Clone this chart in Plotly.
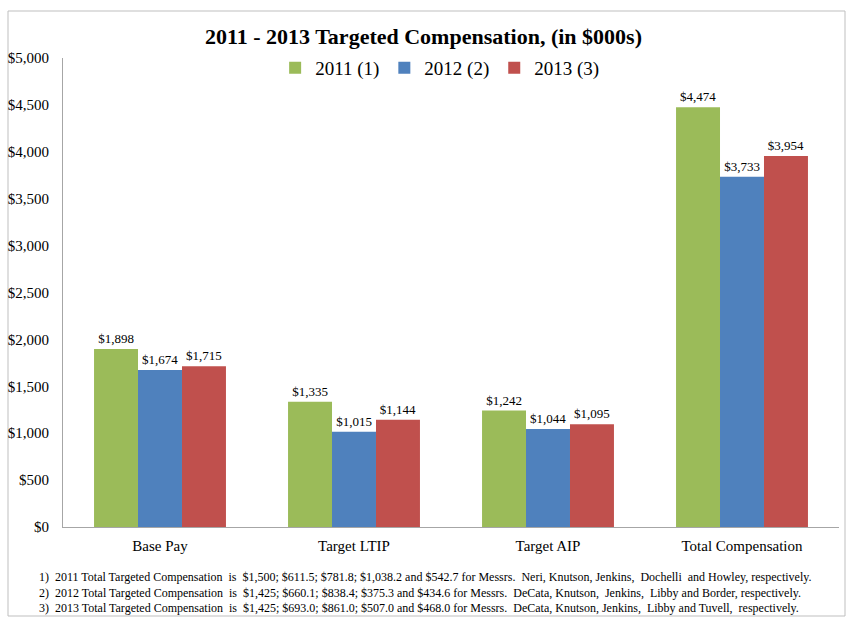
import plotly.graph_objects as go

categories = ["Base Pay", "Target LTIP", "Target AIP", "Total Compensation"]
series_names = ["2011 (1)", "2012 (2)", "2013 (3)"]
values_2011 = [1898, 1335, 1242, 4474]
values_2012 = [1674, 1015, 1044, 3733]
values_2013 = [1715, 1144, 1095, 3954]
colors = ["#9BBB59", "#4F81BD", "#C0504D"]
tick_vals = [0, 500, 1000, 1500, 2000, 2500, 3000, 3500, 4000, 4500, 5000]
tick_text = ["$0", "$500", "$1,000", "$1,500", "$2,000", "$2,500", "$3,000",
             "$3,500", "$4,000", "$4,500", "$5,000"]
footnotes = [
    "1)  2011 Total Targeted Compensation  is  $1,500; $611.5; $781.8; $1,038.2 and $542.7 for Messrs.  Neri, Knutson, Jenkins,  Dochelli  and Howley, respectively.",
    "2)  2012 Total Targeted Compensation  is  $1,425; $660.1; $838.4; $375.3 and $434.6 for Messrs.  DeCata, Knutson,  Jenkins,  Libby and Border, respectively.",
    "3)  2013 Total Targeted Compensation  is  $1,425; $693.0; $861.0; $507.0 and $468.0 for Messrs.  DeCata, Knutson, Jenkins,  Libby and Tuvell,  respectively.",
]

FONT = "Liberation Serif"

fig = go.Figure()
for name, vals, col in zip(series_names, [values_2011, values_2012, values_2013], colors):
    fig.add_trace(go.Bar(
        x=categories, y=vals, name=name, marker_color=col, marker_line_width=0,
        text=[f"${v:,}" for v in vals], textposition="outside",
        textfont=dict(family=FONT, size=13, color="black"), cliponaxis=False,
    ))

ann = []
for i, t in enumerate(footnotes):
    ann.append(dict(text=t, xref="paper", yref="paper", x=-0.033, y=(527 - (577 + 15.5 * i)) / 469,
                    xanchor="left", yanchor="middle", showarrow=False,
                    font=dict(family=FONT, size=12, color="black")))

fig.update_layout(
    width=847, height=622,
    margin=dict(l=63, r=8, t=58, b=95),
    paper_bgcolor="white", plot_bgcolor="white",
    barmode="group", bargap=0.32, bargroupgap=0,
    font=dict(family=FONT, color="black"),
    title=dict(text="<b>2011 - 2013 Targeted Compensation, (in $000s)</b>",
               x=0.5, xanchor="center", y=1 - 36 / 622, yanchor="middle",
               font=dict(family=FONT, size=22, color="black")),
    legend=dict(orientation="h", x=0.486, xanchor="center", y=(527 - 68) / 469, yanchor="middle",
                font=dict(family=FONT, size=19, color="black"), bgcolor="rgba(0,0,0,0)",
                itemwidth=30, traceorder="normal"),
    xaxis=dict(showline=True, linecolor="#A6A6A6", linewidth=1, ticks="",
               ticklabelstandoff=5,
               tickfont=dict(family=FONT, size=15, color="black"), showgrid=False),
    yaxis=dict(range=[0, 5000], tickvals=tick_vals, ticktext=tick_text, showgrid=False,
               showline=True, linecolor="#A6A6A6", linewidth=1, ticks="",
               ticklabelstandoff=10,
               tickfont=dict(family=FONT, size=15, color="black"), zeroline=False),
    annotations=ann,
    shapes=[dict(type="rect", xref="paper", yref="paper",
                 x0=(8 - 63) / 776, x1=(845 - 63) / 776,
                 y0=(527 - 616) / 469, y1=(527 - 11) / 469,
                 line=dict(color="#BFBFBF", width=1), fillcolor="rgba(0,0,0,0)", layer="below")],
)

fig.write_html("out.html", config={"displayModeBar": False},
               post_script="document.body.style.margin='0px';")
